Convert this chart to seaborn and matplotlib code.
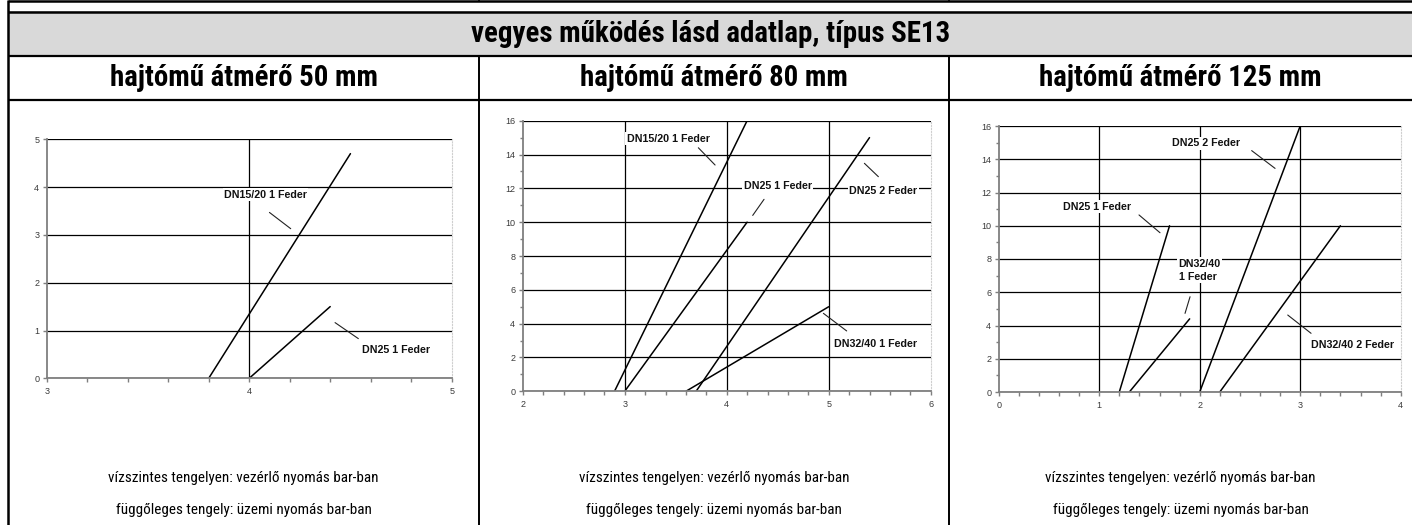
import numpy as np
import pandas as pd
import matplotlib
matplotlib.use("Agg")
import matplotlib.pyplot as plt
import seaborn as sns
from matplotlib import font_manager
from matplotlib.font_manager import FontProperties
from matplotlib.lines import Line2D
from matplotlib.patches import Rectangle
from matplotlib.ticker import MultipleLocator

# ---------------- data ----------------
title = "vegyes működés lásd adatlap, típus SE13"
headers = ["hajtómű átmérő 50 mm", "hajtómű átmérő 80 mm", "hajtómű átmérő 125 mm"]
foot1 = "vízszintes tengelyen: vezérlő nyomás bar-ban"
foot2 = "függőleges tengely: üzemi nyomás bar-ban"

p1_labels = ["DN15/20 1 Feder", "DN25 1 Feder"]
p1_x = [[3.8, 4.5], [4.0, 4.4]]
p1_y = [[0, 4.7], [0, 1.5]]

p2_labels = ["DN15/20 1 Feder", "DN25 1 Feder", "DN25 2 Feder", "DN32/40 1 Feder"]
p2_x = [[2.9, 4.2], [3.0, 4.2], [3.7, 5.4], [3.6, 5.0]]
p2_y = [[0, 16], [0, 10], [0, 15], [0, 5]]

p3_labels = ["DN25 1 Feder", "DN32/40\n1 Feder", "DN25 2 Feder", "DN32/40 2 Feder"]
p3_x = [[1.2, 1.7], [1.3, 1.9], [2.0, 3.0], [2.2, 3.4]]
p3_y = [[0, 10], [0, 4.4], [0, 16], [0, 10]]

p1_ticks_x = [3, 4, 5]
p1_ticks_y = [0, 1, 2, 3, 4, 5]
p2_ticks_x = [2, 3, 4, 5, 6]
p2_ticks_y = [0, 2, 4, 6, 8, 10, 12, 14, 16]
p3_ticks_x = [0, 1, 2, 3, 4]
p3_ticks_y = [0, 2, 4, 6, 8, 10, 12, 14, 16]

# ---------------- layout (annotation positions, pixel geometry) ----------------
W, H = 1412, 525
p1_ann = [((4.08, 3.84, "center"), (4.10, 3.47, 4.205, 3.13)),
          ((4.725, 0.59, "center"), (4.424, 1.165, 4.539, 0.83))]
p2_ann = [((3.425, 14.94, "center"), (3.722, 14.40, 3.886, 13.38)),
          ((4.50, 12.14, "center"), (4.366, 11.35, 4.255, 10.40)),
          ((5.533, 11.86, "center"), (5.35, 13.48, 5.487, 12.69)),
          ((5.458, 2.78, "center"), (4.948, 4.61, 5.176, 3.57))]
p3_ann = [((0.975, 11.15, "center"), (1.396, 10.65, 1.605, 9.58)),
          ((1.79, 7.32, "left"), (1.904, 5.73, 1.854, 4.73)),
          ((2.06, 14.96, "center"), (2.517, 14.52, 2.75, 13.45)),
          ((3.52, 2.83, "center"), (2.876, 4.63, 3.108, 3.53))]

ax_boxes = [(46.7, 139.3, 451.7, 378.3),
            (522.7, 120.7, 930.7, 391.3),
            (998.7, 126.0, 1400.7, 392.0)]

sns.set_theme(style="white")
plt.rcParams["font.family"] = ["Liberation Sans", "DejaVu Sans"]
plt.rcParams["text.color"] = "black"


def find_narrow(bold):
    pri = ["liberation sans narrow", "arial narrow", "roboto condensed", "open sans condensed",
           "noto sans condensed", "noto sans", "dejavu sans condensed", "dejavu sans"]
    best = None
    for f in font_manager.fontManager.ttflist:
        nm = f.name.lower()
        fn = f.fname.lower()
        st = str(f.stretch).lower()
        narrowish = ("narrow" in nm or "condensed" in nm or "narrow" in fn or "condensed" in fn
                     or st in ("condensed", "semi-condensed", "extra-condensed", "ultra-condensed"))
        if not narrowish or "mono" in nm or "serif" in nm.replace("sans", ""):
            continue
        if "semicondensed" in fn or "semi-condensed" in st or "extracondensed" in fn:
            continue
        try:
            w = int(f.weight)
        except Exception:
            w = {"bold": 700, "normal": 400, "regular": 400}.get(str(f.weight).lower(), 400)
        if bold and w < 600:
            continue
        if not bold and (w < 350 or w > 500):
            continue
        if "italic" in str(f.style).lower() or "oblique" in str(f.style).lower() or "italic" in fn:
            continue
        rank = len(pri)
        for i, p in enumerate(pri):
            if nm.startswith(p):
                rank = i
                break
        score = rank * 1000 + abs(w - (700 if bold else 400))
        if best is None or score < best[0]:
            best = (score, f.fname)
    if best is None:
        return FontProperties(family=["Liberation Sans", "DejaVu Sans"],
                              weight="bold" if bold else "normal")
    return FontProperties(fname=best[1])


fp_bold = find_narrow(True)
fp_reg = find_narrow(False)

fig = plt.figure(figsize=(W / 100, H / 100), dpi=100)
fig.patch.set_facecolor("white")
renderer = fig.canvas.get_renderer()


def fx(x):
    return x / W


def fy(y):
    return 1 - y / H


def hline(y, x0, x1, lw=1.6, color="black"):
    fig.add_artist(Line2D([fx(x0), fx(x1)], [fy(y), fy(y)], color=color, lw=lw,
                          transform=fig.transFigure, solid_capstyle="butt"))


def vline(x, y0, y1, lw=1.6, color="black"):
    fig.add_artist(Line2D([fx(x), fx(x)], [fy(y0), fy(y1)], color=color, lw=lw,
                          transform=fig.transFigure, solid_capstyle="butt"))


def fit(t, target):
    bb = t.get_window_extent(renderer)
    t.set_fontsize(t.get_fontsize() * target / bb.width)


# table frame
fig.add_artist(Rectangle((fx(8), fy(56)), fx(1412) - fx(8), fy(11) - fy(56),
                         transform=fig.transFigure, facecolor="#d9d9d9", edgecolor="none"))
hline(1, 8, 1412, lw=1.8)
vline(479, 0, 2, lw=1.2)
vline(949, 0, 2, lw=1.2)
hline(11.5, 8, 1412, lw=1.8)
hline(56, 8, 1412, lw=1.6)
hline(100, 8, 1412, lw=1.6)
vline(8, 0, 525, lw=1.8)
vline(479, 56, 525, lw=1.4)
vline(949, 56, 525, lw=1.4)

t = fig.text(fx(710.5), fy(34), title, ha="center", va="center", fontproperties=fp_bold,
             fontsize=18, color="black")
fit(t, 479)
centers = [243.5, 714, 1180.5]
hfs = None
for c, h in zip(centers, headers):
    t = fig.text(fx(c), fy(78.5), h, ha="center", va="center", fontproperties=fp_bold,
                 fontsize=18, color="black")
    if hfs is None:
        fit(t, 267)
        hfs = t.get_fontsize()
    t.set_fontsize(hfs)
ffs = None
for c in centers:
    t1 = fig.text(fx(c), fy(478), foot1, ha="center", va="center", fontproperties=fp_reg,
                  fontsize=11, color="black")
    if ffs is None:
        fit(t1, 268)
        ffs = t1.get_fontsize()
    t1.set_fontsize(ffs)
    fig.text(fx(c), fy(510), foot2, ha="center", va="center", fontproperties=fp_reg,
             fontsize=ffs, color="black")

# label font size
probe = fig.text(0, 0, "DN15/20 1 Feder", fontweight="bold", fontsize=8,
                 family=["Liberation Sans", "DejaVu Sans"])
fit(probe, 83)
lab_fs = probe.get_fontsize()
probe.remove()

panels = [
    (p1_labels, p1_x, p1_y, p1_ticks_x, p1_ticks_y, p1_ann, None),
    (p2_labels, p2_x, p2_y, p2_ticks_x, p2_ticks_y, p2_ann, 1),
    (p3_labels, p3_x, p3_y, p3_ticks_x, p3_ticks_y, p3_ann, 1),
]

for (labels, xs, ys, tx, ty, ann, yminor), (l, tp, r, b) in zip(panels, ax_boxes):
    ax = fig.add_axes([fx(l), fy(b), fx(r) - fx(l), fy(tp) - fy(b)])
    rows = []
    for lab, xx, yy in zip(labels, xs, ys):
        for a, bb in zip(xx, yy):
            rows.append({"x": a, "y": bb, "series": lab})
    df = pd.DataFrame(rows)
    sns.lineplot(data=df, x="x", y="y", units="series", estimator=None, sort=False,
                 color="black", lw=1.1, ax=ax, legend=False)
    ax.set_xlim(tx[0], tx[-1])
    ax.set_ylim(ty[0], ty[-1])
    ax.set_xticks(tx)
    ax.set_yticks(ty)
    ax.set_xticklabels([str(v) for v in tx])
    ax.set_yticklabels([str(v) for v in ty])
    ax.xaxis.set_minor_locator(MultipleLocator(0.2))
    if yminor:
        ax.yaxis.set_minor_locator(MultipleLocator(yminor))
    ax.set_xlabel("")
    ax.set_ylabel("")
    ax.set_facecolor("white")
    ax.grid(axis="y", color="black", lw=0.9)
    for v in tx[1:-1]:
        ax.axvline(v, color="black", lw=0.9, zorder=0.5)
    ax.tick_params(axis="both", which="both", direction="out", colors="#7f7f7f",
                   labelcolor="#3a3a3a", labelsize=6.5, width=1.0)
    ax.tick_params(axis="x", which="both", length=3.2, pad=3.0, bottom=True)
    ax.tick_params(axis="y", which="major", length=3.2, pad=2.2, left=True)
    ax.tick_params(axis="y", which="minor", length=2.0, left=True)
    for s in ["left", "bottom"]:
        ax.spines[s].set_color("#7f7f7f")
        ax.spines[s].set_linewidth(1.3)
    ax.spines["right"].set_color("#cfcfcf")
    ax.spines["right"].set_linewidth(0.8)
    ax.spines["right"].set_linestyle(":")
    ax.spines["top"].set_visible(False)
    for lab, ((cx, cy, ha), (x0, y0, x1, y1)) in zip(labels, ann):
        ax.text(cx, cy, lab, ha=ha, va="center", fontweight="bold", fontsize=lab_fs,
                family=["Liberation Sans", "DejaVu Sans"], color="#111111",
                linespacing=1.45, zorder=4,
                bbox=dict(facecolor="white", edgecolor="none", pad=1.0))
        ax.plot([x0, x1], [y0, y1], color="#222222", lw=0.8, zorder=4)

fig.savefig("out.png", dpi=100, facecolor="white")
